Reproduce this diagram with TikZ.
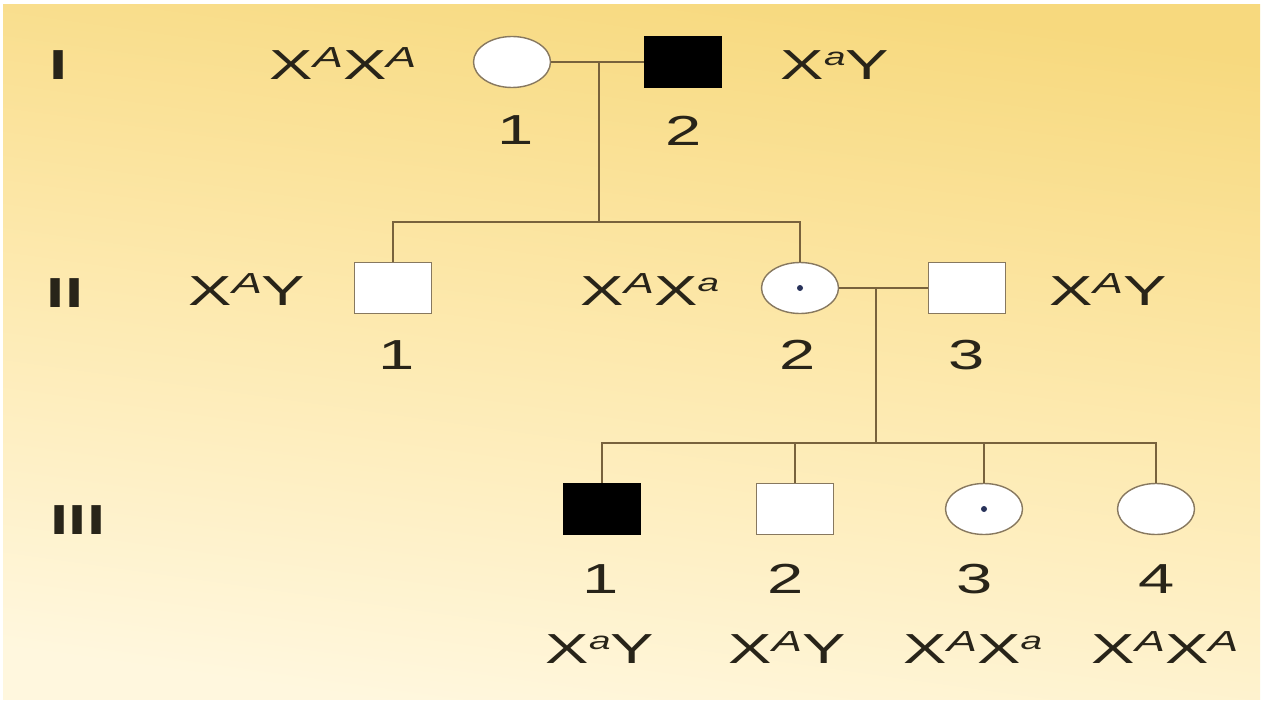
\documentclass[tikz,border=0pt]{standalone}
\usepackage{fontspec}
\setmainfont{Liberation Sans}
\usetikzlibrary{shapes.geometric}
\definecolor{bgtop}{RGB}{247,217,126}
\definecolor{bgmid}{RGB}{253,233,174}
\definecolor{bgbot}{RGB}{255,247,222}
\definecolor{lncol}{RGB}{120,98,60}
\definecolor{shcol}{RGB}{135,120,95}
\definecolor{txcol}{RGB}{40,36,25}
\definecolor{dotcol}{RGB}{40,50,90}
\newcommand\gsup[1]{\raisebox{12pt}{\fontsize{29}{30}\selectfont\itshape #1}}
\newcommand\gsub[1]{\raisebox{14pt}{\fontsize{25}{30}\selectfont\itshape #1}}
\newcommand\hstr[1]{\scalebox{1.55}[1]{#1}}
\begin{document}
\begin{tikzpicture}[x=1pt,y=-1pt,
  conn/.style={draw=lncol, line width=1.6pt},
  indiv/.style={draw=shcol, fill=white, line width=1.4pt, inner sep=0pt, minimum width=77pt, minimum height=51pt},
  fem/.style={indiv, ellipse},
  mal/.style={indiv, rectangle},
  aff/.style={mal, fill=black, draw=black},
  car/.style={fem, path picture={\fill[dotcol] (path picture bounding box.center) circle (3pt);}},
  lab/.style={anchor=base, inner sep=0pt, text=txcol, font=\fontsize{42}{44}\selectfont},
  gen/.style={lab, font=\fontsize{42}{44}\selectfont\bfseries},
]
\useasboundingbox (0,0) rectangle (1268,714);
\fill[white] (0,0) rectangle (1268,714);
\shade[top color=bgtop, bottom color=bgbot, middle color=bgmid, shading angle=-8] (3,5) rectangle (1260,699);

% generation labels
\node[gen] (gI) at (59,80) {\hstr{I}};
\node[gen] (gII) at (65,307) {\hstr{II}};
\node[gen] (gIII) at (78,534) {\hstr{III}};

% individuals
\node[fem] (i1) at (512,62) {};
\node[aff] (i2) at (683,62) {};
\node[mal] (ii1) at (393,288) {};
\node[car] (ii2) at (800,288) {};
\node[mal] (ii3) at (967,288) {};
\node[aff] (iii1) at (602,509) {};
\node[mal] (iii2) at (795,509) {};
\node[car] (iii3) at (984,509) {};
\node[fem] (iii4) at (1156,509) {};

% connectors
\coordinate (m1) at (599,62);
\coordinate (s1) at (599,222);
\coordinate (m2) at (876,288);
\coordinate (s2) at (876,443);
\draw[conn] (i1.east) -- (i2.west);
\draw[conn] (m1) -- (s1);
\draw[conn] (ii1.north) -- (ii1.north |- s1) -- (ii2.north |- s1) -- (ii2.north);
\draw[conn] (ii2.east) -- (ii3.west);
\draw[conn] (m2) -- (s2);
\draw[conn] (iii1.north) -- (iii1.north |- s2) -- (iii4.north |- s2) -- (iii4.north);
\draw[conn] (iii2.north) -- (iii2.north |- s2);
\draw[conn] (iii3.north) -- (iii3.north |- s2);

% generation I texts
\node[lab] (t1a) at (343,80) {\hstr{X\gsup{A}X\gsup{A}}};
\node[lab] (t1b) at (835,80) {\hstr{X\gsub{a}Y}};
\node[lab] (n11) at (516,145) {\hstr{1}};
\node[lab] (n12) at (684,146) {\hstr{2}};

% generation II texts
\node[lab] (t2a) at (247,305) {\hstr{X\gsup{A}Y}};
\node[lab] (t2b) at (650,305) {\hstr{X\gsup{A}X\gsub{a}}};
\node[lab] (t2c) at (1108,305) {\hstr{X\gsup{A}Y}};
\node[lab] (n21) at (397,369) {\hstr{1}};
\node[lab] (n22) at (798,369) {\hstr{2}};
\node[lab] (n23) at (967,369) {\hstr{3}};

% generation III texts
\node[lab] (n31) at (601,593) {\hstr{1}};
\node[lab] (n32) at (786,593) {\hstr{2}};
\node[lab] (n33) at (975,593) {\hstr{3}};
\node[lab] (n34) at (1157,593) {\hstr{4}};
\node[lab] (t3a) at (600,663) {\hstr{X\gsub{a}Y}};
\node[lab] (t3b) at (787,663) {\hstr{X\gsup{A}Y}};
\node[lab] (t3c) at (973,663) {\hstr{X\gsup{A}X\gsub{a}}};
\node[lab] (t3d) at (1165,663) {\hstr{X\gsup{A}X\gsup{A}}};
\end{tikzpicture}
\end{document}
